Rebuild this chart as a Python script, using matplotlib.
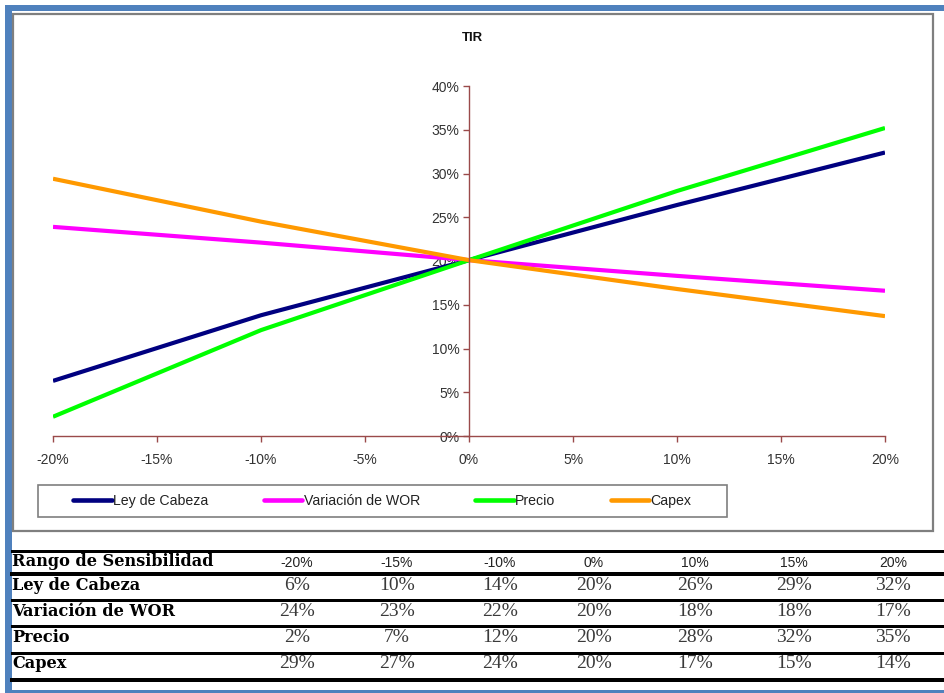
import matplotlib.pyplot as plt
from matplotlib.patches import Rectangle
from matplotlib.lines import Line2D
from matplotlib.ticker import FuncFormatter, MultipleLocator

# data
sens_x = [-20, -10, 0, 10, 20]
ley_cabeza = [6.3, 13.8, 20.1, 26.4, 32.4]
variacion_wor = [23.9, 22.1, 20.1, 18.3, 16.6]
precio = [2.2, 12.1, 20.1, 28.0, 35.2]
capex = [29.4, 24.5, 20.1, 16.8, 13.7]

series_names = ["Ley de Cabeza", "Variación de WOR", "Precio", "Capex"]
series_colors = ["#000080", "#FF00FF", "#00FF00", "#FF9900"]

table_cols = ["-20%", "-15%", "-10%", "0%", "10%", "15%", "20%"]
table_rows = {
    "Ley de Cabeza": ["6%", "10%", "14%", "20%", "26%", "29%", "32%"],
    "Variación de WOR": ["24%", "23%", "22%", "20%", "18%", "18%", "17%"],
    "Precio": ["2%", "7%", "12%", "20%", "28%", "32%", "35%"],
    "Capex": ["29%", "27%", "24%", "20%", "17%", "15%", "14%"],
}

W, H = 944, 693
fx = lambda x: x / W
fy = lambda y: 1 - y / H

plt.rcParams["font.family"] = ["Liberation Sans", "DejaVu Sans"]
fig = plt.figure(figsize=(W / 100, H / 100), dpi=100)

# frame: blue border and grey chart box
blue = "#4F81BD"
fig.add_artist(Rectangle((fx(5), fy(11)), fx(939), 6 / H, transform=fig.transFigure,
                         color=blue, lw=0, zorder=-3))
fig.add_artist(Rectangle((fx(5), 0), fx(7), fy(5), transform=fig.transFigure,
                         color=blue, lw=0, zorder=-3))
fig.add_artist(Rectangle((fx(5), fy(693)), fx(939), 3 / H, transform=fig.transFigure,
                         color=blue, lw=0, zorder=-3))
fig.add_artist(Rectangle((fx(13), fy(531)), fx(920), (531 - 14) / H, transform=fig.transFigure,
                         facecolor="white", edgecolor="#7f7f7f", lw=1.6, zorder=-2))
# legend box
fig.add_artist(Rectangle((fx(38), fy(517)), fx(727 - 38), 32 / H, transform=fig.transFigure,
                         facecolor="white", edgecolor="#7f7f7f", lw=1.2, zorder=-1))

# chart
ax = fig.add_axes([fx(53), fy(436), fx(885 - 53), (436 - 86) / H])
ax.set_facecolor("none")
series = [ley_cabeza, variacion_wor, precio, capex]
for vals, name, col in zip(series, series_names, series_colors):
    ax.plot(sens_x, vals, color=col, lw=3, label=name, solid_capstyle="butt")

ax.set_xlim(-20, 20)
ax.set_ylim(0, 40)
ax.xaxis.set_major_locator(MultipleLocator(5))
ax.yaxis.set_major_locator(MultipleLocator(5))
pct = FuncFormatter(lambda v, p: "%d%%" % round(v))
ax.xaxis.set_major_formatter(pct)
ax.yaxis.set_major_formatter(pct)

spine_c = "#9a4a4a"
ax.spines["left"].set_position(("data", 0))
ax.spines["top"].set_visible(False)
ax.spines["right"].set_visible(False)
for s in ["left", "bottom"]:
    ax.spines[s].set_color(spine_c)
    ax.spines[s].set_linewidth(1)
ax.tick_params(axis="both", direction="out", length=4, width=1, color=spine_c,
               labelsize=10, labelcolor="#333333")
ax.tick_params(axis="x", pad=8)
ax.tick_params(axis="y", pad=3)

fig.text(fx(472), fy(38), "TIR", ha="center", va="center", fontsize=9.5,
         fontweight="bold", color="#111111")

# legend
leg = ax.legend(loc="center", bbox_to_anchor=(fx(382.5), fy(501)),
                bbox_transform=fig.transFigure, ncol=4, frameon=False,
                fontsize=10.2, handlelength=2.7, handletextpad=0.12,
                columnspacing=3.9, borderpad=0)
for t in leg.get_texts():
    t.set_color("#222222")
for h in leg.legend_handles:
    h.set_linewidth(3.3)
    h.set_solid_capstyle("round")

# table
col_x = [297, 397, 500, 594, 695, 794, 893]
row_y = [585, 612, 638, 664]
fig.text(fx(12), fy(562), "Rango de Sensibilidad", ha="left", va="center",
         family="DejaVu Serif", fontweight="bold", fontsize=11.6)
for cx, lab in zip(col_x, table_cols):
    fig.text(fx(cx), fy(563), lab, ha="center", va="center", fontsize=10, color="#222222")
for ry, (name, vals) in zip(row_y, table_rows.items()):
    fig.text(fx(12), fy(ry), name, ha="left", va="center",
             family="DejaVu Serif", fontweight="bold", fontsize=11.6)
    for cx, v in zip(col_x, vals):
        fig.text(fx(cx), fy(ry), v, ha="center", va="center",
                 family="Liberation Serif", fontsize=14, color="#3a3a3a")

for y, w in [(551, 3), (574, 4), (600, 3), (626, 3), (653, 3), (680, 4)]:
    fig.add_artist(Line2D([fx(12), 1], [fy(y), fy(y)], transform=fig.transFigure,
                          color="black", lw=w * 0.72))

fig.savefig("out.png", dpi=100)
